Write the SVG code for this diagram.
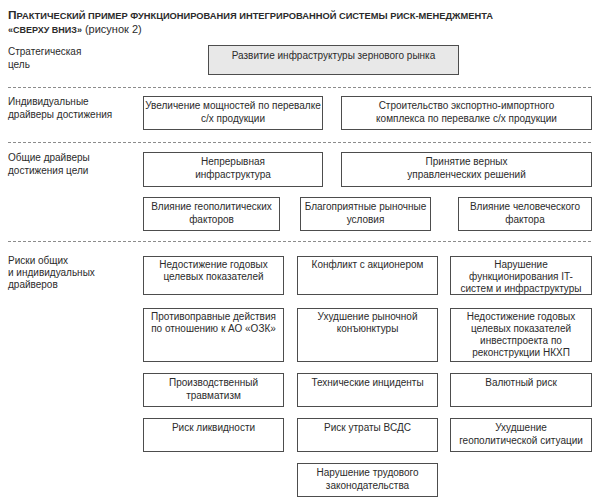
<svg xmlns="http://www.w3.org/2000/svg" width="600" height="502" viewBox="0 0 600 502">
<style>
text{font-family:"Liberation Sans","DejaVu Sans",sans-serif;font-size:10px;fill:#2b2b2b}
.t{font-weight:bold;font-size:9px}
.tb{font-size:11.5px}
.tr{font-weight:normal;font-size:11px}
.c{text-anchor:middle}
.box{fill:#fff;stroke:#4d4d4d;stroke-width:1}
.gbox{fill:#e8e8e8;stroke:#4d4d4d;stroke-width:1}
.sep{stroke:#8c8c8c;stroke-width:1;stroke-dasharray:3 2;fill:none}
</style>
<rect width="600" height="502" fill="#fff"/>
<text class="t" x="8" y="19" textLength="485" lengthAdjust="spacingAndGlyphs"><tspan class="tb">П</tspan>РАКТИЧЕСКИЙ ПРИМЕР ФУНКЦИОНИРОВАНИЯ ИНТЕГРИРОВАННОЙ СИСТЕМЫ РИСК-МЕНЕДЖМЕНТА</text>
<text class="t" x="8" y="33">«СВЕРХУ ВНИЗ»<tspan class="tr"> (рисунок 2)</tspan></text>
<g id="labels">
<text x="8" y="55">Стратегическая</text><text x="8" y="68">цель</text>
<text x="8" y="105">Индивидуальные</text><text x="8" y="118">драйверы достижения</text>
<text x="8" y="161">Общие драйверы</text><text x="8" y="174">достижения цели</text>
<text x="8" y="264">Риски общих</text><text x="8" y="276">и индивидуальных</text><text x="8" y="288">драйверов</text>
</g>
<g id="separators">
<line class="sep" x1="8" y1="87.5" x2="592" y2="87.5"/>
<line class="sep" x1="8" y1="142.5" x2="592" y2="142.5"/>
<line class="sep" x1="8" y1="241.5" x2="592" y2="241.5"/>
</g>
<g id="goal"><rect class="gbox" x="208.5" y="45.5" width="250" height="29"/><text class="c" x="333.5" y="59">Развитие инфраструктуры зернового рынка</text></g>
<g id="ind1"><rect class="box" x="143.5" y="96.5" width="179" height="33"/><text class="c" x="233" y="109">Увеличение мощностей по перевалке</text><text class="c" x="233" y="122">с/х продукции</text></g>
<g id="ind2"><rect class="box" x="341.5" y="96.5" width="250" height="33"/><text class="c" x="466.5" y="109">Строительство экспортно-импортного</text><text class="c" x="466.5" y="122">комплекса по перевалке с/х продукции</text></g>
<g id="gen1"><rect class="box" x="143.5" y="152.5" width="179" height="34"/><text class="c" x="233" y="165">Непрерывная</text><text class="c" x="233" y="178">инфраструктура</text></g>
<g id="gen2"><rect class="box" x="341.5" y="152.5" width="250" height="34"/><text class="c" x="466.5" y="165">Принятие верных</text><text class="c" x="466.5" y="178">управленческих решений</text></g>
<g id="gen3"><rect class="box" x="143.5" y="197.5" width="136" height="33"/><text class="c" x="211.5" y="210">Влияние геополитических</text><text class="c" x="211.5" y="223">факторов</text></g>
<g id="gen4"><rect class="box" x="300.5" y="197.5" width="130" height="33"/><text class="c" x="365.5" y="210">Благоприятные рыночные</text><text class="c" x="365.5" y="223">условия</text></g>
<g id="gen5"><rect class="box" x="458.5" y="197.5" width="133" height="33"/><text class="c" x="525" y="210">Влияние человеческого</text><text class="c" x="525" y="223">фактора</text></g>
<g id="r1"><rect class="box" x="143.5" y="256.5" width="140" height="38"/><text class="c" x="213.5" y="268">Недостижение годовых</text><text class="c" x="213.5" y="280">целевых показателей</text></g>
<g id="r2"><rect class="box" x="297.5" y="256.5" width="140" height="38"/><text class="c" x="367.5" y="268">Конфликт с акционером</text></g>
<g id="r3"><rect class="box" x="450.5" y="256.5" width="141" height="38"/><text class="c" x="521" y="268">Нарушение</text><text class="c" x="521" y="280">функционирования IT-</text><text class="c" x="521" y="292">систем и инфраструктуры</text></g>
<g id="r4"><rect class="box" x="143.5" y="308.5" width="140" height="53"/><text class="c" x="213.5" y="320">Противоправные действия</text><text class="c" x="213.5" y="332">по отношению к АО «ОЗК»</text></g>
<g id="r5"><rect class="box" x="297.5" y="308.5" width="140" height="53"/><text class="c" x="367.5" y="320">Ухудшение рыночной</text><text class="c" x="367.5" y="332">конъюнктуры</text></g>
<g id="r6"><rect class="box" x="450.5" y="308.5" width="141" height="53"/><text class="c" x="521" y="320">Недостижение годовых</text><text class="c" x="521" y="332">целевых показателей</text><text class="c" x="521" y="344">инвестпроекта по</text><text class="c" x="521" y="356">реконструкции НКХП</text></g>
<g id="r7"><rect class="box" x="143.5" y="373.5" width="140" height="33"/><text class="c" x="213.5" y="386">Производственный</text><text class="c" x="213.5" y="399">травматизм</text></g>
<g id="r8"><rect class="box" x="297.5" y="373.5" width="140" height="33"/><text class="c" x="367.5" y="386">Технические инциденты</text></g>
<g id="r9"><rect class="box" x="450.5" y="373.5" width="141" height="33"/><text class="c" x="521" y="386">Валютный риск</text></g>
<g id="r10"><rect class="box" x="143.5" y="418.5" width="140" height="33"/><text class="c" x="213.5" y="431">Риск ликвидности</text></g>
<g id="r11"><rect class="box" x="297.5" y="418.5" width="140" height="33"/><text class="c" x="367.5" y="431">Риск утраты ВСДС</text></g>
<g id="r12"><rect class="box" x="450.5" y="418.5" width="141" height="33"/><text class="c" x="521" y="431">Ухудшение</text><text class="c" x="521" y="444">геополитической ситуации</text></g>
<g id="r13"><rect class="box" x="297.5" y="463.5" width="140" height="33"/><text class="c" x="367.5" y="476">Нарушение трудового</text><text class="c" x="367.5" y="489">законодательства</text></g>
<g id="connectors"/>
</svg>
